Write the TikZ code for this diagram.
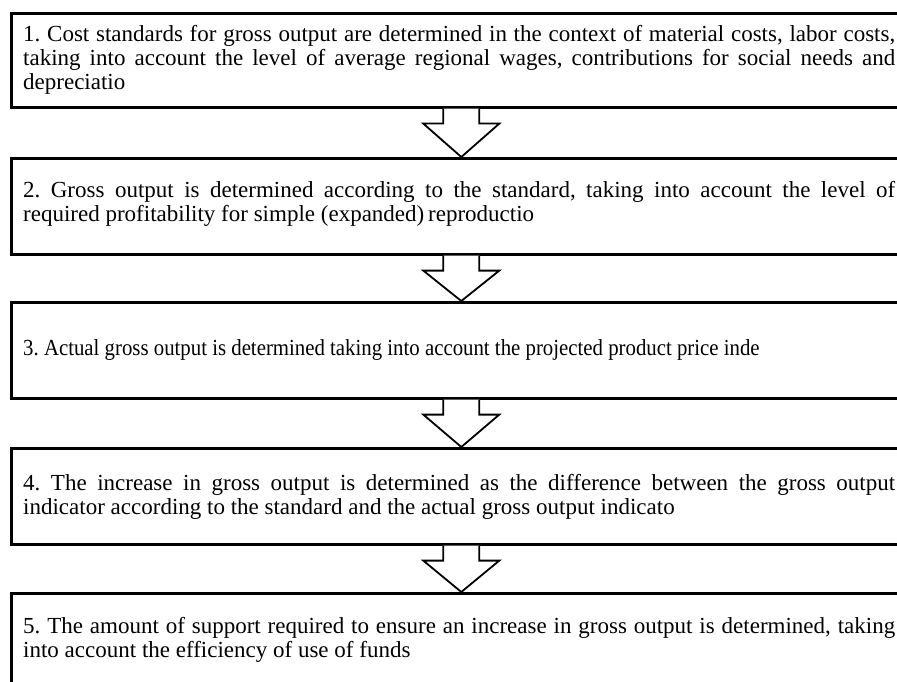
\documentclass[tikz,border=0pt]{standalone}
\usepackage{fontspec}
\setmainfont{Liberation Serif}
\newfontfamily\condensedserif[FakeStretch=0.905]{Liberation Serif}
\usetikzlibrary{calc}
\tikzset{
  box/.style={draw, line width=2.6pt, rectangle, minimum width=895pt, inner sep=0pt, anchor=north west},
  txt/.style={anchor=base west, text width=872pt, align=justify, inner sep=0pt,
    font=\fontsize{23}{24}\selectfont,
    execute at begin node={\frenchspacing\tolerance=10000\hbadness=10000\hyphenpenalty=10000}},
  downarrow/.style={draw, fill=white, line width=1.8pt, line join=miter},
}
\begin{document}
\begin{tikzpicture}[x=1pt,y=-1pt]
\useasboundingbox (0,0) rectangle (897,682);
\clip (0,0) rectangle (897,682);
\node[box, minimum height=94pt] (b1) at (10,12) {};
\node[box, minimum height=96pt] (b2) at (10,157) {};
\node[box, minimum height=96pt] (b3) at (10,301) {};
\node[box, minimum height=96pt] (b4) at (10,447) {};
\node[box, minimum height=110pt] (b5) at (10,592) {};

\node[txt] (t1) at (23,42) {1. Cost standards for gross output are determined in the context of material costs, labor costs,\linebreak taking into account the level of average regional wages, contributions for social needs and\linebreak depreciatio};
\node[txt] (t2) at (23,197) {2. Gross output is determined according to the standard, taking into account the level of\linebreak required profitability for simple (expanded)\,reproductio};
\node[txt, font=\fontsize{23}{24}\condensedserif] (t3) at (23,355) {3. Actual gross output is determined taking into account the projected product price inde};
\node[txt] (t4) at (23,490) {4. The increase in gross output is determined as the difference between the gross output\linebreak indicator according to the standard and the actual gross output indicato};
\node[txt] (t5) at (23,633) {5. The amount of support required to ensure an increase in gross output is determined, taking\linebreak into account the efficiency of use of funds};

\foreach \a/\b in {b1/b2,b2/b3,b3/b4,b4/b5}{
  \draw[downarrow] ($(\a.south)+(-15.5,0)$) -- ($(\a.south)+(-15.5,15)$) -- ($(\a.south)+(-35.5,15)$)
    -- ($(\b.north)+(2.5,0)$) -- ($(\a.south)+(40.5,15)$) -- ($(\a.south)+(20.5,15)$) -- ($(\a.south)+(20.5,0)$);
}
\end{tikzpicture}
\end{document}
